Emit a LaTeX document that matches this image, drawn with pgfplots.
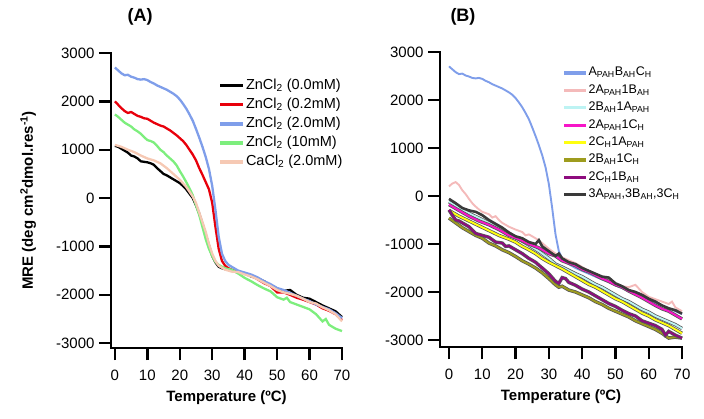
\documentclass[border=0pt]{standalone}
\usepackage{pgfplots}
\pgfplotsset{compat=1.18}
\usepackage{fontspec}
\setmainfont{Liberation Sans}
\definecolor{cA0}{HTML}{000000}
\definecolor{cA1}{HTML}{E8000B}
\definecolor{cBlue}{HTML}{7F9EEA}
\definecolor{cGreen}{HTML}{7DEE7D}
\definecolor{cPeach}{HTML}{F6C9B4}
\definecolor{cPink}{HTML}{F4BABA}
\definecolor{cCyan}{HTML}{BDF3F3}
\definecolor{cMag}{HTML}{F716C8}
\definecolor{cYel}{HTML}{FFFF10}
\definecolor{cOlive}{HTML}{9E9C1E}
\definecolor{cPurp}{HTML}{8E0C7E}
\definecolor{cDark}{HTML}{3A3A3A}
\pgfplotsset{
  panel/.style={
    scale only axis, height=295pt, clip=false,
    axis x line=bottom, axis y line=left,
    every axis line/.append style={line width=2.6pt, black},
    x axis line style={-}, y axis line style={-},
    every tick/.style={line width=2.4pt, black},
    major tick length=12pt, tick align=outside,
    unbounded coords=jump,
    xmax=70,
    xtick={0,10,20,30,40,50,60,70},
    xticklabels={0,10,20,30,40,50,60,70},
    ytick={-3000,-2000,-1000,0,1000,2000,3000},
    yticklabels={-3000,-2000,-1000,0,1000,2000,3000},
    scaled y ticks=false,
    tick label style={font=\fontsize{15}{18}\selectfont},
    xticklabel style={yshift=-6pt},
    yticklabel style={xshift=-1pt},
    xlabel={\bfseries Temperature (ºC)},
    every axis x label/.style={at={(axis description cs:0.5,0)}, anchor=center, yshift=-50pt, font=\fontsize{15}{18}\selectfont},
    title style={font=\bfseries\fontsize{18}{20}\selectfont, anchor=center},
    legend cell align=left,
    frame/.style={cA0, line width=2.6pt, forget plot, line cap=rect},
    tickln/.style={cA0, line width=2.4pt, forget plot},
  },
  overlay/.style={panel, xticklabels={}, yticklabels={}, xlabel={}},
}
\begin{document}
\begin{tikzpicture}
\path[use as bounding box] (0pt,0pt) rectangle (704pt,-418pt);
% ---------------- Panel A ----------------
\begin{axis}[panel,
  at={(111pt,-348pt)}, anchor=south west, width=231pt,
  xmin=-1.2, ymin=-3100, ymax=3000,
  ylabel={\bfseries MRE (deg cm\textsuperscript{2}dmol.res\textsuperscript{-1})},
  every axis y label/.style={at={(axis description cs:-0.359,0.5)}, rotate=90, anchor=center, font=\fontsize{15}{18}\selectfont},
  title={(A)}, title style={at={(axis description cs:0.126,1)}, yshift=30pt},
  legend style={draw=none, fill=none, at={(axis description cs:0.465,0.918)}, anchor=north west, inner sep=0pt, row sep=2.6pt,
    font=\fontsize{14.5}{17}\selectfont, nodes={inner sep=1pt, text height=11pt, text depth=3.5pt}},
  legend image code/.code={\draw[#1, line width=3.4pt] (0pt,0pt) -- (23pt,0pt);},
  every axis plot/.append style={line width=2.3pt},
]
\addplot[cA0] coordinates {(0,1080)(1,1060)(2,1020)(3,980)(4,940)(5,880)(6,860)(7,820)(8,760)(9,750)(10,740)(11,720)(12,690)(13,620)(14,560)(15,500)(16,470)(17,430)(18,390)(19,350)(20,310)(21,250)(22,180)(23,90)(24,0)(25,-150)(26,-320)(27,-530)(28,-750)(29,-980)(30,-1200)(31,-1330)(32,-1420)(33,-1450)(34,-1470)(36,-1500)(38,-1540)(40,-1560)(42,-1620)(44,-1660)(46,-1720)(48,-1800)(50,-1870)(52,-1920)(54,-1900)(56,-2000)(58,-2060)(60,-2080)(62,-2150)(64,-2220)(66,-2280)(68,-2340)(70,-2460)};
\addlegendentry{ZnCl\textsubscript{2} (0.0mM)}
\addplot[cA1] coordinates {(0,2000)(1,1930)(2,1860)(3,1800)(4,1760)(5,1780)(6,1740)(7,1700)(8,1680)(9,1650)(10,1640)(11,1600)(12,1560)(13,1530)(14,1500)(15,1480)(16,1440)(17,1400)(18,1350)(19,1300)(20,1240)(21,1180)(22,1100)(23,1000)(24,900)(25,780)(26,620)(27,480)(28,330)(29,180)(30,-100)(31,-600)(32,-1050)(33,-1300)(34,-1400)(35,-1450)(36,-1480)(38,-1520)(40,-1560)(42,-1600)(44,-1680)(46,-1760)(48,-1820)(50,-1950)(52,-1950)(54,-2000)(56,-2060)(58,-2100)(60,-2150)(62,-2200)(64,-2280)(66,-2330)(68,-2400)(70,-2520)};
\addlegendentry{ZnCl\textsubscript{2} (0.2mM)}
\addplot[cBlue] coordinates {(0,2700)(1,2640)(2,2580)(3,2540)(4,2550)(5,2510)(6,2490)(7,2460)(8,2450)(9,2460)(10,2440)(11,2400)(12,2370)(13,2330)(14,2300)(15,2270)(16,2240)(17,2200)(18,2160)(19,2110)(20,2040)(21,1950)(22,1850)(23,1730)(24,1600)(25,1430)(26,1250)(27,1060)(28,850)(29,600)(30,250)(31,-250)(32,-800)(33,-1150)(34,-1300)(35,-1380)(36,-1420)(37,-1460)(38,-1500)(39,-1520)(40,-1540)(42,-1580)(44,-1640)(46,-1720)(48,-1780)(50,-1860)(52,-1900)(54,-1960)(56,-2020)(58,-2080)(60,-2130)(62,-2200)(64,-2250)(66,-2300)(68,-2380)(70,-2480)};
\addlegendentry{ZnCl\textsubscript{2} (2.0mM)}
\addplot[cGreen] coordinates {(0,1730)(1,1680)(2,1620)(3,1560)(4,1520)(5,1480)(6,1420)(7,1380)(8,1330)(9,1260)(10,1200)(11,1180)(12,1150)(13,1080)(14,1000)(15,950)(16,880)(17,820)(18,760)(19,680)(20,560)(21,450)(22,330)(23,200)(24,60)(25,-150)(26,-350)(27,-600)(28,-850)(29,-1050)(30,-1200)(31,-1320)(32,-1380)(33,-1420)(34,-1450)(35,-1470)(36,-1480)(38,-1560)(40,-1650)(42,-1720)(44,-1800)(46,-1870)(48,-1930)(50,-2050)(52,-2100)(53,-2060)(54,-2150)(56,-2200)(58,-2250)(60,-2300)(62,-2400)(64,-2550)(65,-2500)(66,-2620)(68,-2700)(70,-2750)};
\addlegendentry{ZnCl\textsubscript{2} (10mM)}
\addplot[cPeach] coordinates {(0,1100)(2,1060)(4,1000)(6,950)(8,880)(10,820)(12,780)(14,720)(16,620)(18,500)(20,380)(22,230)(24,30)(25,-100)(26,-300)(27,-500)(28,-700)(29,-950)(30,-1150)(31,-1300)(32,-1400)(34,-1480)(36,-1520)(38,-1530)(40,-1580)(42,-1620)(44,-1680)(46,-1750)(48,-1820)(50,-1900)(52,-1950)(54,-1980)(56,-2020)(58,-2080)(60,-2150)(62,-2180)(64,-2260)(66,-2320)(68,-2400)(70,-2550)};
\addlegendentry{CaCl\textsubscript{2} (2.0mM)}
\end{axis}
% ---------------- Panel B ----------------
\begin{axis}[panel,
  at={(440pt,-347pt)}, anchor=south west, width=242pt,
  xmin=-2.7, ymin=-3146, ymax=3000,
  title={(B)}, title style={at={(axis description cs:0.095,1)}, yshift=29pt},
  legend style={draw=none, fill=none, at={(axis description cs:0.505,0.955)}, anchor=north west, inner sep=0pt, row sep=2.4pt,
    font=\fontsize{12.5}{15}\selectfont, nodes={inner sep=1pt, text height=9.5pt, text depth=3.5pt}},
  legend image code/.code={\draw[#1, line width=3.2pt] (0pt,0pt) -- (22pt,0pt);},
  every axis plot/.append style={line width=1.9pt},
  under/.style={cDark!85, line width=3.4pt, forget plot},
]
% blue
\addplot[cBlue] coordinates {(0,2700)(1,2640)(2,2580)(3,2540)(4,2550)(5,2510)(6,2490)(7,2460)(8,2450)(9,2460)(10,2440)(11,2400)(12,2370)(13,2330)(14,2300)(15,2270)(16,2240)(17,2200)(18,2160)(19,2110)(20,2040)(21,1950)(22,1850)(23,1730)(24,1600)(25,1430)(26,1250)(27,1060)(28,850)(29,600)(30,250)(31,-250)(32,-800)(33,-1150)(34,-1300)(35,-1380)(36,-1420)(38,-1500)(40,-1560)(42,-1620)(44,-1680)(46,-1740)(48,-1790)(50,-1860)(52,-1920)(54,-1980)(56,-2040)(58,-2100)(60,-2160)(62,-2220)(64,-2280)(66,-2340)(68,-2400)(70,-2460)};
\addlegendentry{A\textsubscript{PAH}B\textsubscript{AH}C\textsubscript{H}}
% pink
\addplot[cPink] coordinates {(0,200)(1,260)(2,290)(3,230)(4,120)(5,40)(6,-60)(7,-150)(8,-220)(9,-280)(10,-330)(12,-380)(13,-450)(14,-420)(15,-500)(16,-560)(17,-600)(18,-640)(20,-700)(22,-750)(23,-820)(24,-800)(26,-880)(28,-980)(30,-1100)(32,-1200)(34,-1280)(36,-1340)(38,-1400)(40,-1480)(42,-1560)(44,-1620)(46,-1680)(48,-1760)(50,-1820)(52,-1880)(54,-1900)(56,-1850)(58,-2000)(60,-2100)(62,-2150)(64,-2200)(66,-2250)(67,-2200)(68,-2320)(70,-2400)};
\addlegendentry{2A\textsubscript{PAH}1B\textsubscript{AH}}
% cyan
\addplot[under] coordinates {(0,-120)(3,-250)(6,-360)(9,-460)(12,-560)(15,-680)(18,-800)(21,-900)(24,-1020)(27,-1150)(30,-1300)(32,-1420)(34,-1480)(36,-1550)(38,-1620)(40,-1680)(42,-1760)(44,-1840)(46,-1900)(48,-1980)(50,-2060)(52,-2140)(54,-2200)(56,-2280)(58,-2360)(60,-2420)(62,-2500)(64,-2560)(66,-2620)(68,-2680)(70,-2760)};
\addplot[cCyan] coordinates {(0,-120)(3,-250)(6,-360)(9,-460)(12,-560)(15,-680)(18,-800)(21,-900)(24,-1020)(27,-1150)(30,-1300)(32,-1420)(34,-1480)(36,-1550)(38,-1620)(40,-1680)(42,-1760)(44,-1840)(46,-1900)(48,-1980)(50,-2060)(52,-2140)(54,-2200)(56,-2280)(58,-2360)(60,-2420)(62,-2500)(64,-2560)(66,-2620)(68,-2680)(70,-2760)};
\addlegendentry{2B\textsubscript{AH}1A\textsubscript{PAH}}
% magenta
\addplot[under] coordinates {(0,-180)(3,-300)(6,-420)(9,-520)(12,-600)(15,-700)(18,-820)(21,-900)(24,-1000)(27,-1080)(30,-1200)(32,-1250)(34,-1350)(36,-1400)(38,-1450)(40,-1530)(42,-1580)(44,-1650)(46,-1720)(48,-1780)(50,-1850)(52,-1900)(54,-1980)(56,-2050)(58,-2120)(60,-2200)(62,-2280)(64,-2350)(66,-2400)(68,-2480)(70,-2560)};
\addplot[cMag] coordinates {(0,-180)(3,-300)(6,-420)(9,-520)(12,-600)(15,-700)(18,-820)(21,-900)(24,-1000)(27,-1080)(30,-1200)(32,-1250)(34,-1350)(36,-1400)(38,-1450)(40,-1530)(42,-1580)(44,-1650)(46,-1720)(48,-1780)(50,-1850)(52,-1900)(54,-1980)(56,-2050)(58,-2120)(60,-2200)(62,-2280)(64,-2350)(66,-2400)(68,-2480)(70,-2560)};
\addlegendentry{2A\textsubscript{PAH}1C\textsubscript{H}}
% yellow
\addplot[under] coordinates {(0,-300)(3,-420)(6,-520)(9,-620)(12,-720)(15,-820)(18,-900)(20,-960)(22,-1050)(24,-1120)(26,-1200)(28,-1300)(30,-1380)(32,-1450)(34,-1520)(36,-1600)(38,-1680)(40,-1760)(42,-1840)(44,-1900)(46,-1980)(48,-2060)(50,-2140)(52,-2200)(54,-2280)(56,-2360)(58,-2440)(60,-2500)(62,-2580)(64,-2640)(66,-2700)(68,-2780)(70,-2860)};
\addplot[cYel] coordinates {(0,-300)(3,-420)(6,-520)(9,-620)(12,-720)(15,-820)(18,-900)(20,-960)(22,-1050)(24,-1120)(26,-1200)(28,-1300)(30,-1380)(32,-1450)(34,-1520)(36,-1600)(38,-1680)(40,-1760)(42,-1840)(44,-1900)(46,-1980)(48,-2060)(50,-2140)(52,-2200)(54,-2280)(56,-2360)(58,-2440)(60,-2500)(62,-2580)(64,-2640)(66,-2700)(68,-2780)(70,-2860)};
\addlegendentry{2C\textsubscript{H}1A\textsubscript{PAH}}
% olive
\addplot[under] coordinates {(0,-460)(2,-560)(4,-660)(6,-740)(8,-820)(10,-880)(12,-980)(14,-1040)(16,-1120)(18,-1180)(20,-1260)(22,-1350)(24,-1420)(26,-1500)(28,-1600)(30,-1720)(32,-1850)(33,-1900)(34,-1880)(36,-1960)(38,-2000)(40,-2060)(42,-2120)(44,-2200)(46,-2260)(48,-2340)(50,-2400)(52,-2460)(54,-2520)(56,-2600)(58,-2660)(60,-2720)(62,-2780)(64,-2860)(66,-2960)(68,-2940)(70,-2960)};
\addplot[cOlive] coordinates {(0,-460)(2,-560)(4,-660)(6,-740)(8,-820)(10,-880)(12,-980)(14,-1040)(16,-1120)(18,-1180)(20,-1260)(22,-1350)(24,-1420)(26,-1500)(28,-1600)(30,-1720)(32,-1850)(33,-1900)(34,-1880)(36,-1960)(38,-2000)(40,-2060)(42,-2120)(44,-2200)(46,-2260)(48,-2340)(50,-2400)(52,-2460)(54,-2520)(56,-2600)(58,-2660)(60,-2720)(62,-2780)(64,-2860)(66,-2960)(68,-2940)(70,-2960)};
\addlegendentry{2B\textsubscript{AH}1C\textsubscript{H}}
% purple
\addplot[under] coordinates {(0,-290)(1,-400)(2,-500)(3,-520)(4,-560)(6,-640)(8,-780)(10,-820)(12,-860)(14,-960)(16,-980)(17,-1050)(18,-1040)(20,-1120)(22,-1200)(24,-1300)(26,-1380)(28,-1500)(30,-1620)(31,-1700)(32,-1780)(33,-1820)(34,-1700)(35,-1720)(36,-1800)(38,-1860)(40,-1940)(42,-2000)(44,-2080)(46,-2160)(48,-2240)(50,-2300)(52,-2380)(54,-2450)(56,-2500)(58,-2600)(60,-2650)(62,-2700)(64,-2780)(65,-2900)(66,-2820)(68,-2900)(70,-2960)};
\addplot[cPurp] coordinates {(0,-290)(1,-400)(2,-500)(3,-520)(4,-560)(6,-640)(8,-780)(10,-820)(12,-860)(14,-960)(16,-980)(17,-1050)(18,-1040)(20,-1120)(22,-1200)(24,-1300)(26,-1380)(28,-1500)(30,-1620)(31,-1700)(32,-1780)(33,-1820)(34,-1700)(35,-1720)(36,-1800)(38,-1860)(40,-1940)(42,-2000)(44,-2080)(46,-2160)(48,-2240)(50,-2300)(52,-2380)(54,-2450)(56,-2500)(58,-2600)(60,-2650)(62,-2700)(64,-2780)(65,-2900)(66,-2820)(68,-2900)(70,-2960)};
\addlegendentry{2C\textsubscript{H}1B\textsubscript{AH}}
% dark
\addplot[cDark, line width=2.6pt] coordinates {(0,-60)(2,-150)(4,-250)(6,-300)(8,-330)(10,-400)(12,-500)(14,-580)(16,-660)(18,-760)(20,-840)(22,-880)(24,-960)(26,-1000)(27,-920)(28,-1050)(30,-1150)(32,-1250)(33,-1200)(34,-1300)(36,-1380)(38,-1420)(40,-1500)(42,-1560)(44,-1620)(46,-1680)(48,-1700)(50,-1820)(52,-1880)(54,-1960)(56,-2000)(58,-2060)(60,-2140)(62,-2200)(64,-2280)(66,-2340)(68,-2380)(70,-2450)};
\addlegendentry{3A\textsubscript{PAH},3B\textsubscript{AH},3C\textsubscript{H}}
\end{axis}
% ---------------- overlay axes: lines and ticks drawn last ----------------
\begin{axis}[overlay,
  at={(111pt,-348pt)}, anchor=south west, width=231pt,
  xmin=-1.2, ymin=-3100, ymax=3000]
\addplot[frame] coordinates {(-1.2,3000)(-1.2,-3100)(70,-3100)};
\addplot[tickln] coordinates {(0,-3100)(0,-3348)(0,nan)(10,-3100)(10,-3348)(10,nan)(20,-3100)(20,-3348)(20,nan)(30,-3100)(30,-3348)(30,nan)(40,-3100)(40,-3348)(40,nan)(50,-3100)(50,-3348)(50,nan)(60,-3100)(60,-3348)(60,nan)(70,-3100)(70,-3348)};
\addplot[tickln] coordinates {(-1.2,-3000)(-4.93,-3000)(nan,0)(-1.2,-2000)(-4.93,-2000)(nan,0)(-1.2,-1000)(-4.93,-1000)(nan,0)(-1.2,0)(-4.93,0)(nan,0)(-1.2,1000)(-4.93,1000)(nan,0)(-1.2,2000)(-4.93,2000)(nan,0)(-1.2,3000)(-4.93,3000)};
\end{axis}
\begin{axis}[overlay,
  at={(440pt,-347pt)}, anchor=south west, width=242pt,
  xmin=-2.7, ymin=-3146, ymax=3000]
\addplot[frame] coordinates {(-2.7,3000)(-2.7,-3146)(70,-3146)};
\addplot[tickln] coordinates {(0,-3146)(0,-3396)(0,nan)(10,-3146)(10,-3396)(10,nan)(20,-3146)(20,-3396)(20,nan)(30,-3146)(30,-3396)(30,nan)(40,-3146)(40,-3396)(40,nan)(50,-3146)(50,-3396)(50,nan)(60,-3146)(60,-3396)(60,nan)(70,-3146)(70,-3396)};
\addplot[tickln] coordinates {(-2.7,-3000)(-6.3,-3000)(nan,0)(-2.7,-2000)(-6.3,-2000)(nan,0)(-2.7,-1000)(-6.3,-1000)(nan,0)(-2.7,0)(-6.3,0)(nan,0)(-2.7,1000)(-6.3,1000)(nan,0)(-2.7,2000)(-6.3,2000)(nan,0)(-2.7,3000)(-6.3,3000)};
\end{axis}
\end{tikzpicture}
\end{document}
